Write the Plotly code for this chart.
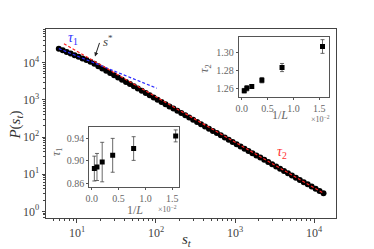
import plotly.graph_objects as go

# ---- main distribution data ----
s_t = [5.888, 6.607, 7.413, 8.318, 9.333, 10.47, 11.75, 13.18, 14.79, 16.60,
       18.62, 20.89, 23.44, 26.30, 29.51, 33.11, 37.15, 41.69, 46.77, 52.48,
       58.88, 66.07, 74.13, 83.18, 93.33, 104.7, 117.5, 131.8, 147.9, 166.0,
       186.2, 208.9, 234.4, 263.0, 295.1, 331.1, 371.5, 416.9, 467.7, 524.8,
       588.8, 660.7, 741.3, 831.8, 933.3, 1047, 1175, 1318, 1479, 1660,
       1862, 2089, 2344, 2630, 2951, 3311, 3715, 4169, 4677, 5248,
       5888, 6607, 7413, 8318, 9333, 10470, 11750, 13180]
P_st = [23990, 21680, 19590, 17700, 15990, 14450, 13060, 11800, 10670, 9441,
        8054, 7015, 6109, 5321, 4634, 4036, 3516, 3062, 2667, 2323,
        2023, 1762, 1535, 1337, 1164, 1014, 883.1, 769.1, 669.9, 583.4,
        508.2, 442.6, 385.5, 335.7, 292.4, 254.7, 221.8, 193.2, 168.3, 146.6,
        127.6, 111.2, 96.83, 84.33, 73.45, 63.97, 55.72, 48.53, 42.27, 36.81,
        32.06, 27.93, 24.32, 21.18, 18.45, 16.07, 14.00, 12.19, 10.62, 9.247,
        8.054, 7.015, 6.109, 5.321, 4.634, 4.036, 3.516, 3.062]

# fit lines (end points)
fit1_s = [5.888, 102.3]
fit1_P = [23990, 2070]
fit2_s = [6.84, 13180]
fit2_P = [32360, 3.09]

# ---- inset data ----
invL = [0.049, 0.098, 0.195, 0.39, 0.78, 1.5625]   # x 1e-2
tau1 = [0.8865, 0.8893, 0.898, 0.910, 0.922, 0.9444]
tau1_err = [0.022, 0.024, 0.035, 0.030, 0.021, 0.0106]
tau2 = [1.2573, 1.2600, 1.2618, 1.2689, 1.2829, 1.3062]
tau2_err = [0.0025, 0.003, 0.002, 0.003, 0.0045, 0.0076]

main_ticks = [1, 10, 100, 1000, 10000]
main_ticktext = ["10<sup>0</sup>", "10<sup>1</sup>", "10<sup>2</sup>", "10<sup>3</sup>", "10<sup>4</sup>"]
inset_x_ticks = [0, 0.5, 1.0, 1.5]
inset_x_ticktext = ["0.0", "0.5", "1.0", "1.5"]
tau1_ticks = [0.86, 0.90, 0.94]
tau2_ticks = [1.26, 1.28, 1.30]

SERIF = "Liberation Serif"
FRAME = "#444444"
INFRAME = "#555555"
GRAY = "#666666"

fig = go.Figure()

fig.add_trace(go.Scatter(x=s_t, y=P_st, mode="markers",
                         marker=dict(symbol="circle", size=6, color="black",
                                     line=dict(width=0)),
                         xaxis="x", yaxis="y", showlegend=False))
fig.add_trace(go.Scatter(x=fit1_s, y=fit1_P, mode="lines",
                         line=dict(color="#2b2bff", width=1.2, dash="3px,2px"),
                         xaxis="x", yaxis="y", showlegend=False))
fig.add_trace(go.Scatter(x=fit2_s, y=fit2_P, mode="lines",
                         line=dict(color="#ff2020", width=1.2, dash="3px,2px"),
                         xaxis="x", yaxis="y", showlegend=False))

# inset 1 (tau1)
fig.add_trace(go.Scatter(x=invL, y=tau1, mode="markers",
                         marker=dict(symbol="square", size=5, color="black"),
                         error_y=dict(type="data", array=tau1_err, color="#444444",
                                      thickness=0.8, width=2),
                         xaxis="x2", yaxis="y2", showlegend=False))
# inset 2 (tau2)
fig.add_trace(go.Scatter(x=invL, y=tau2, mode="markers",
                         marker=dict(symbol="square", size=5, color="black"),
                         error_y=dict(type="data", array=tau2_err, color="#444444",
                                      thickness=0.8, width=2),
                         xaxis="x3", yaxis="y3", showlegend=False))

tickfont_main = dict(family=SERIF, size=12, color="#444444")
tickfont_in = dict(family=SERIF, size=10, color=GRAY)

inset_common = dict(ticks="outside", ticklen=2, tickcolor=INFRAME, tickwidth=0.8,
                    showgrid=False, zeroline=False, showline=True, linecolor=INFRAME,
                    linewidth=1, mirror=True, tickfont=tickfont_in, automargin=False)
main_common = dict(type="log", domain=[0, 1], automargin=False,
                   tickvals=main_ticks, ticktext=main_ticktext,
                   ticks="outside", ticklen=3.5, tickwidth=0.8, tickcolor=FRAME,
                   minor=dict(dtick="D1", ticks="outside", ticklen=2, tickwidth=0.6,
                              tickcolor=FRAME, showgrid=False),
                   showgrid=False, zeroline=False,
                   showline=True, linecolor=FRAME, linewidth=1, mirror=True,
                   tickfont=tickfont_main)

# the page body adds an 8px offset; margins compensate so the plot area lands where the reference has it
fig.update_layout(
    width=374, height=249,
    margin=dict(l=38, r=46, t=21, b=39),
    paper_bgcolor="white", plot_bgcolor="white",
    xaxis=dict(range=[0.608, 4.278], **main_common),
    yaxis=dict(range=[-0.18, 4.91], **main_common),
    xaxis2=dict(anchor="y2", domain=[0.1493, 0.4597], range=[-0.045, 1.63],
                tickvals=inset_x_ticks, ticktext=inset_x_ticktext, **inset_common),
    yaxis2=dict(anchor="x2", domain=[0.1645, 0.4798], range=[0.854, 0.9596],
                tickvals=tau1_ticks, ticktext=["%.2f" % v for v in tau1_ticks], **inset_common),
    xaxis3=dict(anchor="y3", domain=[0.6645, 0.9769], range=[-0.058, 1.694],
                tickvals=inset_x_ticks, ticktext=inset_x_ticktext, **inset_common),
    yaxis3=dict(anchor="x3", domain=[0.6423, 0.9575], range=[1.2507, 1.3167],
                tickvals=tau2_ticks, ticktext=["%.2f" % v for v in tau2_ticks], **inset_common),
)

# white backgrounds behind insets
for xd, yd in [([0.1493, 0.4597], [0.1645, 0.4798]), ([0.6645, 0.9769], [0.6423, 0.9575])]:
    fig.add_shape(type="rect", xref="paper", yref="paper", x0=xd[0], x1=xd[1], y0=yd[0], y1=yd[1],
                  fillcolor="white", line=dict(width=0), layer="below")

def txt(x, y, text, size, color, angle=0):
    return dict(x=x, y=y, xref="paper", yref="paper", text=text, showarrow=False,
                textangle=angle, xanchor="center", yanchor="middle",
                font=dict(family=SERIF, size=size, color=color))

annots = [
    # main axis titles
    txt(-0.105, 0.492, "<i>P</i>(<i>s</i><sub><i>t</i></sub>)", 15, "#333", -90),
    txt(0.486, -0.115, "<i>s</i><sub><i>t</i></sub>", 15, "#333"),
    # curve labels
    txt(0.092, 0.952, "<i>τ</i><sub>1</sub>", 14, "#3030ff"),
    txt(0.213, 0.935, "<i>s</i><sup>*</sup>", 13, "#444"),
    txt(0.814, 0.349, "<i>τ</i><sub>2</sub>", 14, "#ff3030"),
    # inset 1 titles
    txt(0.038, 0.349, "<i>τ</i><sub>1</sub>", 12, GRAY, -90),
    txt(0.307, 0.043, "1/<i>L</i>", 12, GRAY),
    txt(0.42, 0.05, "×10<sup>−2</sup>", 8, GRAY),
    # inset 2 titles
    txt(0.548, 0.789, "<i>τ</i><sub>2</sub>", 12, GRAY, -90),
    txt(0.808, 0.545, "1/<i>L</i>", 12, GRAY),
    txt(0.945, 0.522, "×10<sup>−2</sup>", 8, GRAY),
    # s* arrow
    dict(x=0.169, y=0.855, xref="paper", yref="paper", ax=5, ay=-15, text="", showarrow=True,
         arrowhead=2, arrowsize=0.8, arrowwidth=1, arrowcolor="#222"),
]
fig.update_layout(annotations=annots)

fig.write_html("out.html")
